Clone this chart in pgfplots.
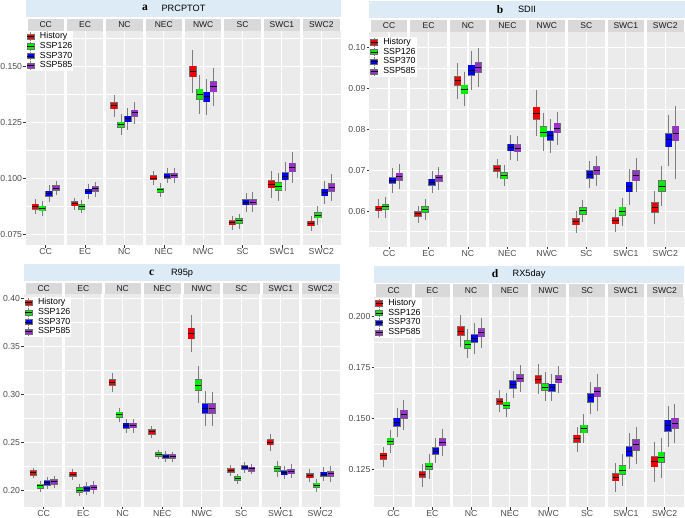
\documentclass[border=0pt]{standalone}
\usepackage{fontspec}
\setmainfont{Liberation Sans}
\newfontfamily\serifb{Liberation Serif}
\usepackage{pgfplots}
\pgfplotsset{compat=1.18}
\usepackage{pgfplotstable}

\definecolor{panelgray}{RGB}{235,235,235}
\definecolor{stripgray}{RGB}{217,217,217}
\definecolor{titleblue}{RGB}{221,235,247}
\definecolor{ticktext}{RGB}{77,77,77}
\definecolor{striptext}{RGB}{26,26,26}
\definecolor{tickcol}{RGB}{51,51,51}
\definecolor{boxborder}{RGB}{110,110,110}
\definecolor{whisk}{RGB}{125,125,125}
\definecolor{cH}{RGB}{238,0,0}
\definecolor{cA}{RGB}{0,238,0}
\definecolor{cB}{RGB}{0,0,238}
\definecolor{cC}{RGB}{153,50,204}

% columns: h = History, a = SSP126, b = SSP370, c = SSP585
% lw = lower whisker, lq = lower quartile, md = median, uq = upper quartile, uw = upper whisker
\pgfplotstableread{
reg  hlw    hlq    hmd    huq    huw    alw    alq    amd    auq    auw    blw    blq    bmd    buq    buw    clw    clq    cmd    cuq    cuw
CC   0.0842 0.0863 0.0874 0.0884 0.0906 0.0832 0.0856 0.0865 0.0875 0.0897 0.0893 0.0921 0.0932 0.0942 0.0969 0.0924 0.0946 0.0955 0.0966 0.0988
EC   0.0860 0.0878 0.0887 0.0894 0.0911 0.0844 0.0863 0.0874 0.0882 0.0903 0.0906 0.0932 0.0940 0.0951 0.0976 0.0918 0.0943 0.0954 0.0963 0.0985
NC   0.1275 0.1311 0.1326 0.1338 0.1372 0.1193 0.1228 0.1240 0.1251 0.1286 0.1217 0.1253 0.1265 0.1277 0.1314 0.1244 0.1278 0.1292 0.1304 0.1339
NEC  0.0970 0.0993 0.1001 0.1010 0.1031 0.0918 0.0939 0.0948 0.0955 0.0978 0.0978 0.1000 0.1010 0.1021 0.1048 0.0978 0.1003 0.1013 0.1022 0.1048
NWC  0.1382 0.1454 0.1479 0.1501 0.1573 0.1286 0.1353 0.1374 0.1397 0.1461 0.1283 0.1342 0.1365 0.1385 0.1445 0.1323 0.1387 0.1409 0.1430 0.1491
SC   0.0769 0.0792 0.0802 0.0810 0.0832 0.0772 0.0799 0.0810 0.0818 0.0842 0.0851 0.0882 0.0893 0.0903 0.0935 0.0848 0.0882 0.0893 0.0903 0.0938
SWC1 0.0914 0.0958 0.0973 0.0988 0.1033 0.0897 0.0946 0.0963 0.0981 0.1022 0.0943 0.0993 0.1007 0.1025 0.1073 0.0981 0.1030 0.1048 0.1067 0.1119
SWC2 0.0763 0.0789 0.0799 0.0807 0.0832 0.0792 0.0824 0.0835 0.0845 0.0875 0.0884 0.0923 0.0938 0.0951 0.0990 0.0899 0.0943 0.0958 0.0975 0.1018
}\tabA

\pgfplotstableread{
reg  hlw    hlq    hmd    huq    huw    alw    alq    amd    auq    auw    blw    blq    bmd    buq    buw    clw    clq    cmd    cuq    cuw
CC   0.0582 0.0601 0.0607 0.0612 0.0630 0.0583 0.0604 0.0611 0.0616 0.0635 0.0645 0.0668 0.0676 0.0682 0.0706 0.0653 0.0676 0.0684 0.0692 0.0715
EC   0.0571 0.0587 0.0593 0.0598 0.0612 0.0578 0.0597 0.0603 0.0610 0.0629 0.0645 0.0664 0.0671 0.0678 0.0698 0.0651 0.0673 0.0681 0.0688 0.0709
NC   0.0874 0.0908 0.0919 0.0929 0.0962 0.0856 0.0887 0.0897 0.0908 0.0940 0.0896 0.0933 0.0945 0.0957 0.0992 0.0904 0.0940 0.0951 0.0963 0.0998
NEC  0.0680 0.0698 0.0704 0.0711 0.0728 0.0661 0.0679 0.0687 0.0693 0.0713 0.0725 0.0748 0.0756 0.0763 0.0786 0.0723 0.0745 0.0753 0.0762 0.0784
NWC  0.0784 0.0825 0.0839 0.0854 0.0896 0.0748 0.0782 0.0793 0.0806 0.0841 0.0743 0.0774 0.0784 0.0795 0.0825 0.0762 0.0792 0.0803 0.0815 0.0842
SC   0.0547 0.0567 0.0575 0.0581 0.0601 0.0574 0.0593 0.0601 0.0608 0.0627 0.0656 0.0680 0.0690 0.0698 0.0722 0.0662 0.0690 0.0699 0.0709 0.0736
SWC1 0.0548 0.0569 0.0576 0.0584 0.0604 0.0564 0.0590 0.0600 0.0609 0.0633 0.0616 0.0647 0.0659 0.0670 0.0702 0.0647 0.0674 0.0687 0.0698 0.0730
SWC2 0.0568 0.0598 0.0610 0.0620 0.0650 0.0612 0.0648 0.0661 0.0674 0.0710 0.0711 0.0758 0.0774 0.0789 0.0835 0.0678 0.0772 0.0790 0.0807 0.0856
}\tabB

\pgfplotstableread{
reg  hlw    hlq    hmd    huq    huw    alw    alq    amd    auq    auw    blw    blq    bmd    buq    buw    clw    clq    cmd    cuq    cuw
CC   0.2125 0.2160 0.2181 0.2201 0.2236 0.1986 0.2024 0.2045 0.2063 0.2097 0.2010 0.2056 0.2076 0.2097 0.2142 0.2021 0.2066 0.2087 0.2108 0.2149
EC   0.2104 0.2146 0.2167 0.2188 0.2226 0.1938 0.1983 0.2003 0.2024 0.2069 0.1951 0.1993 0.2017 0.2038 0.2087 0.1962 0.2007 0.2031 0.2052 0.2097
NC   0.3028 0.3097 0.3125 0.3153 0.3222 0.2712 0.2760 0.2788 0.2813 0.2858 0.2594 0.2649 0.2674 0.2698 0.2743 0.2601 0.2653 0.2677 0.2698 0.2747
NEC  0.2549 0.2587 0.2608 0.2628 0.2667 0.2326 0.2358 0.2375 0.2392 0.2424 0.2295 0.2333 0.2351 0.2368 0.2406 0.2299 0.2333 0.2351 0.2368 0.2403
NWC  0.3441 0.3580 0.3635 0.3688 0.3826 0.2906 0.3045 0.3097 0.3149 0.3295 0.2670 0.2802 0.2851 0.2899 0.3035 0.2670 0.2802 0.2851 0.2899 0.3028
SC   0.2149 0.2188 0.2208 0.2226 0.2264 0.2069 0.2104 0.2122 0.2139 0.2174 0.2177 0.2219 0.2236 0.2253 0.2299 0.2167 0.2201 0.2222 0.2240 0.2278
SWC1 0.2410 0.2476 0.2500 0.2524 0.2587 0.2139 0.2198 0.2222 0.2247 0.2306 0.2118 0.2163 0.2184 0.2205 0.2257 0.2125 0.2174 0.2198 0.2219 0.2274
SWC2 0.2090 0.2132 0.2153 0.2174 0.2219 0.1979 0.2031 0.2052 0.2073 0.2118 0.2101 0.2149 0.2167 0.2188 0.2240 0.2090 0.2146 0.2170 0.2194 0.2250
}\tabC

\pgfplotstableread{
reg  hlw    hlq    hmd    huq    huw    alw    alq    amd    auq    auw    blw    blq    bmd    buq    buw    clw    clq    cmd    cuq    cuw
CC   0.1265 0.1302 0.1317 0.1330 0.1362 0.1330 0.1374 0.1388 0.1403 0.1444 0.1411 0.1463 0.1481 0.1501 0.1554 0.1444 0.1501 0.1520 0.1540 0.1593
EC   0.1167 0.1213 0.1226 0.1239 0.1278 0.1206 0.1252 0.1266 0.1281 0.1325 0.1281 0.1327 0.1341 0.1358 0.1403 0.1315 0.1367 0.1384 0.1401 0.1450
NC   0.1852 0.1909 0.1928 0.1949 0.2007 0.1795 0.1843 0.1863 0.1879 0.1936 0.1816 0.1873 0.1891 0.1909 0.1967 0.1847 0.1901 0.1920 0.1940 0.1993
NEC  0.1530 0.1571 0.1584 0.1597 0.1640 0.1509 0.1550 0.1565 0.1579 0.1623 0.1602 0.1649 0.1667 0.1685 0.1733 0.1628 0.1680 0.1697 0.1713 0.1762
NWC  0.1618 0.1674 0.1692 0.1710 0.1765 0.1587 0.1638 0.1654 0.1671 0.1726 0.1587 0.1635 0.1651 0.1667 0.1716 0.1627 0.1676 0.1693 0.1710 0.1757
SC   0.1338 0.1384 0.1402 0.1418 0.1460 0.1379 0.1431 0.1451 0.1468 0.1521 0.1522 0.1581 0.1601 0.1620 0.1680 0.1537 0.1607 0.1630 0.1651 0.1720
SWC1 0.1142 0.1196 0.1214 0.1230 0.1284 0.1170 0.1227 0.1248 0.1270 0.1328 0.1253 0.1317 0.1338 0.1361 0.1428 0.1276 0.1346 0.1371 0.1395 0.1460
SWC2 0.1191 0.1265 0.1289 0.1314 0.1384 0.1211 0.1286 0.1310 0.1335 0.1407 0.1362 0.1439 0.1465 0.1491 0.1563 0.1379 0.1452 0.1477 0.1501 0.1570
}\tabD

\pgfplotsset{
  facet/.style={
    scale only axis, anchor=north west,
    xmin=0.5, xmax=8.5,
    xtick={1,2,3,4,5,6,7,8},
    xticklabels={CC,EC,NC,NEC,NWC,SC,SWC1,SWC2},
    axis background/.style={fill=panelgray},
    axis line style={draw=none},
    xmajorgrids, ymajorgrids, yminorgrids,
    major grid style={draw=white, line width=1.1pt},
    minor grid style={draw=white, line width=0.55pt},
    tick align=outside, tick pos=left,
    major tick length=2.75pt, minor tick length=0pt,
    tick style={draw=tickcol, line width=0.55pt},
    tick label style={font=\fontsize{8.7}{10}\selectfont, text=ticktext},
    yticklabel style={inner xsep=1pt},
    xticklabel style={inner ysep=0.6pt},
    /pgf/number format/assume math mode=true,
    scaled y ticks=false,
    yticklabel style={/pgf/number format/fixed, /pgf/number format/fixed zerofill},
    legend cell align=left,
    legend style={at={(0,1)}, anchor=north west, draw=none, fill=white,
      inner sep=0.6pt, font=\fontsize{8.8}{10}\selectfont, row sep=0pt,
      nodes={inner sep=0.4pt, text height=6.6pt, text depth=2.3pt},
      /tikz/every odd column/.append style={column sep=5pt}},
  },
}

% one series of 8 boxes: table, column prefix, x offset, fill colour
\newcommand\series[4]{%
  % whiskers
  \addplot[forget plot, draw=none, mark=none,
    error bars/.cd, y dir=both, y explicit, error mark=none,
    error bar style={draw=whisk, line width=0.9pt}]
    table[x expr=\coordindex+1+(#3), y=#2md,
      y error plus expr=\thisrow{#2uw}-\thisrow{#2md},
      y error minus expr=\thisrow{#2md}-\thisrow{#2lw}] {#1};
  % box border
  \addplot[forget plot, draw=none, mark=none,
    error bars/.cd, y dir=both, y explicit, error mark=none,
    error bar style={draw=boxborder, line width=7.4pt, shorten <=-0.6pt, shorten >=-0.6pt}]
    table[x expr=\coordindex+1+(#3), y=#2md,
      y error plus expr=\thisrow{#2uq}-\thisrow{#2md},
      y error minus expr=\thisrow{#2md}-\thisrow{#2lq}] {#1};
  % box fill
  \addplot[forget plot, draw=none, mark=none,
    error bars/.cd, y dir=both, y explicit, error mark=none,
    error bar style={draw=#4, line width=6.2pt}]
    table[x expr=\coordindex+1+(#3), y=#2md,
      y error plus expr=\thisrow{#2uq}-\thisrow{#2md},
      y error minus expr=\thisrow{#2md}-\thisrow{#2lq}] {#1};
  % median
  \addplot[forget plot, only marks, mark=-, mark size=3.1pt,
    mark options={draw=black, line width=1pt}]
    table[x expr=\coordindex+1+(#3), y=#2md] {#1};
}

\newcommand\gaps{%
  \draw[white, line width=3pt] (rel axis cs:0.125,0) -- (rel axis cs:0.125,1);
  \draw[white, line width=3pt] (rel axis cs:0.25,0) -- (rel axis cs:0.25,1);
  \draw[white, line width=3pt] (rel axis cs:0.375,0) -- (rel axis cs:0.375,1);
  \draw[white, line width=3pt] (rel axis cs:0.5,0) -- (rel axis cs:0.5,1);
  \draw[white, line width=3pt] (rel axis cs:0.625,0) -- (rel axis cs:0.625,1);
  \draw[white, line width=3pt] (rel axis cs:0.75,0) -- (rel axis cs:0.75,1);
  \draw[white, line width=3pt] (rel axis cs:0.875,0) -- (rel axis cs:0.875,1);
}

\newcommand\lgbox[1]{%
  \draw[whisk, line width=0.8pt] (3.5pt,-4.4pt) -- (3.5pt,4.4pt);
  \draw[fill=#1, draw=boxborder, line width=0.5pt] (0pt,-2.6pt) rectangle (7pt,2.6pt);
  \draw[black, line width=0.8pt] (0pt,0pt) -- (7pt,0pt);
}

\newcommand\legendents{%
  \addlegendimage{legend image code/.code={\lgbox{cH}}}\addlegendentry{History}
  \addlegendimage{legend image code/.code={\lgbox{cA}}}\addlegendentry{SSP126}
  \addlegendimage{legend image code/.code={\lgbox{cB}}}\addlegendentry{SSP370}
  \addlegendimage{legend image code/.code={\lgbox{cC}}}\addlegendentry{SSP585}
}

\newcommand\allboxes[1]{%
  \gaps
  \series{#1}{h}{-0.2625}{cH}
  \series{#1}{a}{-0.0875}{cA}
  \series{#1}{b}{0.0875}{cB}
  \series{#1}{c}{0.2625}{cC}
  \legendents
}

% strips: left, width, axis top, strip height (pixel units, y downwards)
\newcommand\strips[4]{%
  \foreach \n [count=\i] in {CC,EC,NC,NEC,NWC,SC,SWC1,SWC2}{
    \fill[stripgray] ({#1+(\i-1)*#2/8+1.5},{#3-#4}) rectangle ({#1+\i*#2/8-1.5},#3);
    \node[font=\fontsize{8.5}{9}\selectfont, text=striptext, inner sep=0pt]
      at ({#1+(\i-0.5)*#2/8},{#3-#4/2}) {\n};
  }
}

\begin{document}
\begin{tikzpicture}
\useasboundingbox (0pt,0pt) rectangle (685pt,-518pt);

% ---------- a: PRCPTOT ----------
\begin{axis}[facet, at={(26pt,-31pt)}, width=315pt, height=214pt,
  ymin=0.0702, ymax=0.1658,
  ytick={0.075,0.1,0.125,0.15}, minor ytick={0.0875,0.1125,0.1375,0.1625},
  yticklabel style={/pgf/number format/precision=3}]
\allboxes{\tabA}
\end{axis}

% ---------- b: SDII ----------
\begin{axis}[facet, at={(369.3pt,-32pt)}, width=315.7pt, height=214.7pt,
  ymin=0.0513, ymax=0.1038,
  ytick={0.06,0.07,0.08,0.09,0.1}, minor ytick={0.055,0.065,0.075,0.085,0.095},
  yticklabel style={/pgf/number format/precision=2},
  legend style={yshift=-4.7pt}]
\allboxes{\tabB}
\end{axis}

% ---------- c: R95p ----------
\begin{axis}[facet, at={(24pt,-294.3pt)}, width=316pt, height=212.4pt,
  ymin=0.1829, ymax=0.4042,
  ytick={0.2,0.25,0.3,0.35,0.4}, minor ytick={0.225,0.275,0.325,0.375},
  yticklabel style={/pgf/number format/precision=2},
  legend style={yshift=-2.7pt}]
\allboxes{\tabC}
\end{axis}

% ---------- d: RX5day ----------
\begin{axis}[facet, at={(374.3pt,-296.7pt)}, width=309.7pt, height=210.6pt,
  ymin=0.1066, ymax=0.2096,
  ytick={0.125,0.15,0.175,0.2}, minor ytick={0.1125,0.1375,0.1625,0.1875},
  yticklabel style={/pgf/number format/precision=3},
  legend style={yshift=-1pt}]
\allboxes{\tabD}
\end{axis}

\begin{scope}[x=1pt,y=-1pt]
% strips
\strips{26}{315}{31}{12}
\strips{369.3}{315.7}{32}{12}
\strips{24}{316}{294.3}{11.5}
\strips{374.3}{309.7}{296.7}{12.2}

% title bars
\fill[titleblue] (26,0) rectangle (341,17.3);
\node[font=\fontsize{9.2}{10}\selectfont] at (183.5,8.7) {PRCPTOT};
\node[font=\serifb\bfseries\fontsize{11.5}{12}\selectfont] at (145,8.2) {a};

\fill[titleblue] (369.3,1.3) rectangle (685,18.3);
\node[font=\fontsize{9.2}{10}\selectfont] at (527,9.8) {SDII};
\node[font=\serifb\bfseries\fontsize{11.5}{12}\selectfont] at (500,9.6) {b};

\fill[titleblue] (24,264.3) rectangle (340,281);
\node[font=\fontsize{9.2}{10}\selectfont] at (182,272.8) {R95p};
\node[font=\serifb\bfseries\fontsize{11.5}{12}\selectfont] at (151.7,272.4) {c};

\fill[titleblue] (374.3,266) rectangle (684,282.7);
\node[font=\fontsize{9.2}{10}\selectfont] at (529,274.4) {RX5day};
\node[font=\serifb\bfseries\fontsize{11.5}{12}\selectfont] at (495,274) {d};
\end{scope}
\end{tikzpicture}
\end{document}
